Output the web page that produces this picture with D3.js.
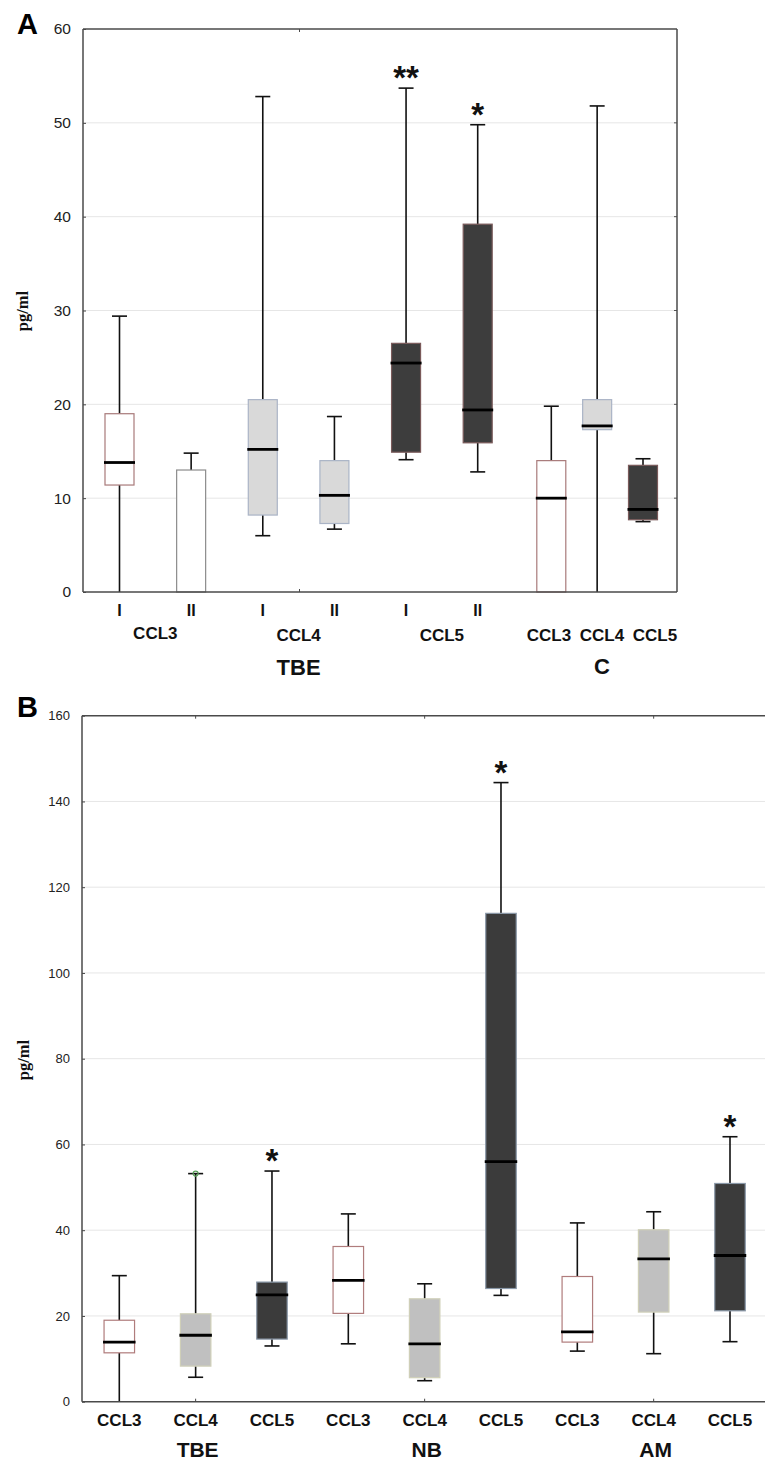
<!DOCTYPE html>
<html>
<head>
<meta charset="utf-8">
<script src="https://cdn.jsdelivr.net/npm/d3@7"></script>
<style>
  html, body { margin: 0; padding: 0; background: #fff; }
  svg { display: block; }
</style>
</head>
<body>
<div id="chart"></div>
<script>
// Box plots of CCL3 / CCL4 / CCL5 concentrations (pg/ml), panels A and B

// ----- Panel A data -----
const aGroups    = ["TBE", "TBE", "TBE", "TBE", "TBE", "TBE", "C", "C", "C"];
const aChemokine = ["CCL3", "CCL3", "CCL4", "CCL4", "CCL5", "CCL5", "CCL3", "CCL4", "CCL5"];
const aStage     = ["I", "II", "I", "II", "I", "II", "", "", ""];
const aMin       = [0, 13.0, 6.0, 6.7, 14.1, 12.8, 0, 0, 7.5];
const aQ1        = [11.4, 0, 8.2, 7.3, 14.9, 15.9, 0, 17.3, 7.7];
const aMedian    = [13.8, null, 15.2, 10.3, 24.4, 19.4, 10.0, 17.7, 8.8];
const aQ3        = [19.0, 13.0, 20.5, 14.0, 26.5, 39.2, 14.0, 20.5, 13.5];
const aMax       = [29.4, 14.8, 52.8, 18.7, 53.7, 49.8, 19.8, 51.8, 14.2];
const aStars     = ["", "", "", "", "**", "*", "", "", ""];
const aTicks     = [0, 10, 20, 30, 40, 50, 60];

// ----- Panel B data -----
const bGroups    = ["TBE", "TBE", "TBE", "NB", "NB", "NB", "AM", "AM", "AM"];
const bChemokine = ["CCL3", "CCL4", "CCL5", "CCL3", "CCL4", "CCL5", "CCL3", "CCL4", "CCL5"];
const bMin       = [0, 5.7, 13.0, 13.5, 4.9, 24.8, 11.8, 11.2, 14.0];
const bQ1        = [11.4, 8.3, 14.6, 20.6, 5.6, 26.4, 13.9, 20.9, 21.2];
const bMedian    = [13.9, 15.5, 24.9, 28.3, 13.5, 56.0, 16.3, 33.3, 34.1];
const bQ3        = [19.0, 20.5, 27.9, 36.2, 24.0, 113.9, 29.2, 40.1, 50.9];
const bMax       = [29.4, 53.2, 53.8, 43.8, 27.5, 144.4, 41.7, 44.3, 61.8];
const bStars     = ["", "", "*", "", "", "*", "", "", "*"];
const bOutliers  = [null, 53.2, null, null, null, null, null, null, null];
const bTicks     = [0, 20, 40, 60, 80, 100, 120, 140, 160];

// ----- Styling -----
const SANS = "'Liberation Sans', Arial, sans-serif";
const SERIF = "'Liberation Serif', 'Times New Roman', serif";
const FILL_A = { CCL3: "#ffffff", CCL4: "#d9d9d9", CCL5: "#3d3d3d" };
const STROKE_A = { CCL3: "#a87a7a", CCL4: "#aab4c6", CCL5: "#7a5a5a" };
const FILL_B = { CCL3: "#ffffff", CCL4: "#c0c0c0", CCL5: "#3b3b3b" };
const STROKE_B = { CCL3: "#b07c7c", CCL4: "#cfcfb8", CCL5: "#8a98a8" };

const svg = d3.select("#chart").append("svg")
  .attr("width", 765).attr("height", 1462);
svg.append("rect").attr("width", 765).attr("height", 1462).attr("fill", "#fff");

function rows(groups, chem, mins, q1, med, q3, maxs, stars) {
  return groups.map((g, i) => ({
    i, group: g, chem: chem[i], min: mins[i], q1: q1[i],
    median: med[i], q3: q3[i], max: maxs[i], star: stars[i]
  }));
}

// Draws frame, grid, y axis and boxes for one panel
function drawPanel(p) {
  const g = svg.append("g");
  const { x, y, left, right, top, bottom, boxW } = p;

  // 1. Grid lines
  g.selectAll("line.grid").data(p.ticks.filter(t => t > p.ticks[0] && t < p.ticks[p.ticks.length - 1]))
    .join("line")
    .attr("x1", left).attr("x2", right)
    .attr("y1", d => y(d)).attr("y2", d => y(d))
    .attr("stroke", "#e6e6e6").attr("stroke-width", 1);

  // 2. Y axis labels + small inward ticks
  const yAxis = d3.axisLeft(y).tickValues(p.ticks).tickSize(-3).tickPadding(12).tickSizeOuter(0);
  const ya = g.append("g").attr("transform", `translate(${left},0)`).call(yAxis);
  ya.select(".domain").remove();
  ya.selectAll("line").attr("stroke", "#444");
  ya.selectAll("text").attr("font-family", SANS).attr("font-size", p.tickFont).attr("fill", "#222");
  if (p.rightTicks) {
    g.selectAll("line.rt").data(p.ticks.slice(1, -1)).join("line")
      .attr("x1", right - 3).attr("x2", right)
      .attr("y1", d => y(d)).attr("y2", d => y(d))
      .attr("stroke", "#555");
  }

  // 3. Boxes
  const data = p.data;
  const bx = g.selectAll("g.box").data(data).join("g").attr("class", "box");

  // whiskers
  bx.append("line")
    .attr("x1", d => x(d.i)).attr("x2", d => x(d.i))
    .attr("y1", d => y(d.q3)).attr("y2", d => y(d.max))
    .attr("stroke", "#111").attr("stroke-width", 1.6);
  bx.filter(d => d.min < d.q1).append("line")
    .attr("x1", d => x(d.i)).attr("x2", d => x(d.i))
    .attr("y1", d => y(d.q1)).attr("y2", d => y(d.min))
    .attr("stroke", "#111").attr("stroke-width", 1.6);
  // caps
  bx.append("line")
    .attr("x1", d => x(d.i) - 7.5).attr("x2", d => x(d.i) + 7.5)
    .attr("y1", d => y(d.max)).attr("y2", d => y(d.max))
    .attr("stroke", "#111").attr("stroke-width", 1.6);
  bx.filter(d => d.min > 0 && d.min < d.q1).append("line")
    .attr("x1", d => x(d.i) - 7.5).attr("x2", d => x(d.i) + 7.5)
    .attr("y1", d => y(d.min)).attr("y2", d => y(d.min))
    .attr("stroke", "#111").attr("stroke-width", 1.6);
  // box
  bx.append("rect")
    .attr("x", d => x(d.i) - boxW / 2).attr("width", boxW)
    .attr("y", d => y(d.q3)).attr("height", d => y(d.q1) - y(d.q3))
    .attr("fill", d => p.fill(d)).attr("stroke", d => p.stroke(d)).attr("stroke-width", 1.2);
  // median
  bx.filter(d => d.median != null).append("line")
    .attr("x1", d => x(d.i) - boxW / 2 - 1).attr("x2", d => x(d.i) + boxW / 2 + 1)
    .attr("y1", d => y(d.median)).attr("y2", d => y(d.median))
    .attr("stroke", "#000").attr("stroke-width", 2.8);
  // significance stars
  bx.filter(d => d.star).append("text")
    .attr("x", d => x(d.i)).attr("y", d => y(d.max) + 1)
    .attr("text-anchor", "middle")
    .attr("font-family", SANS).attr("font-weight", "bold").attr("font-size", 33)
    .attr("fill", "#111").text(d => d.star);

  // 4. Frame
  const frame = g.append("g").attr("stroke", "#4a4a4a").attr("stroke-width", 1.5).attr("fill", "none");
  frame.append("line").attr("x1", left).attr("x2", left).attr("y1", top).attr("y2", bottom);
  frame.append("line").attr("x1", left).attr("x2", p.frameRight).attr("y1", bottom).attr("y2", bottom);
  frame.append("line").attr("x1", left).attr("x2", p.frameRight).attr("y1", top).attr("y2", top);
  if (p.rightTicks) frame.append("line").attr("x1", right).attr("x2", right).attr("y1", top).attr("y2", bottom);
  g.selectAll("line.gt").data(p.groupTicks).join("line")
    .attr("x1", d => d).attr("x2", d => d).attr("y1", top).attr("y2", top + 3)
    .attr("stroke", "#4a4a4a");
  g.selectAll("line.gb").data(p.groupTicks).join("line")
    .attr("x1", d => d).attr("x2", d => d).attr("y1", bottom).attr("y2", bottom - 3)
    .attr("stroke", "#4a4a4a");

  // 5. Y title + panel letter
  g.append("text")
    .attr("transform", `translate(${p.yTitleX},${p.yTitleY}) rotate(-90)`)
    .attr("text-anchor", "middle")
    .attr("font-family", SERIF).attr("font-weight", "bold").attr("font-size", 16.5)
    .attr("fill", "#111").text("pg/ml");
  g.append("text")
    .attr("x", 17).attr("y", p.letterY)
    .attr("font-family", SANS).attr("font-weight", "bold").attr("font-size", 29)
    .attr("fill", "#000").text(p.letter);
  return g;
}

// ----- Panel A -----
const yA = d3.scaleLinear().domain([0, 60]).range([592, 29]);
// TBE boxes are evenly spaced, the control group C sits tighter at the right
const xA = d3.scaleLinear().domain([0, 5, 6, 8]).range([119.5, 477.7, 551.3, 643]);
const dataA = rows(aGroups, aChemokine, aMin, aQ1, aMedian, aQ3, aMax, aStars);

const gA = drawPanel({
  data: dataA, x: xA, y: yA, ticks: aTicks,
  left: 83, right: 677, top: 29, bottom: 592, frameRight: 677, boxW: 29,
  tickFont: 15.5, rightTicks: true, groupTicks: [299.5],
  fill: d => FILL_A[d.chem],
  stroke: d => (d.chem === "CCL3" && d.i === 1) ? "#8c8c8c" : STROKE_A[d.chem],
  yTitleX: 28, yTitleY: 311, letter: "A", letterY: 34
});

const boldLabel = (sel, size) => sel
  .attr("text-anchor", "middle").attr("font-family", SANS)
  .attr("font-weight", "bold").attr("font-size", size).attr("fill", "#111");

// stage labels I / II
gA.selectAll("text.stage").data(dataA.filter(d => d.group === "TBE")).join("text")
  .attr("x", d => xA(d.i)).attr("y", 616)
  .call(boldLabel, 16).text(d => aStage[d.i]);
// chemokine labels under TBE pairs
const tbePairs = d3.groups(dataA.filter(d => d.group === "TBE"), d => d.chem);
gA.selectAll("text.pair").data(tbePairs).join("text")
  .attr("x", ([, v]) => d3.mean(v, d => xA(d.i)))
  .attr("y", ([k]) => k === "CCL3" ? 639 : 641)
  .call(boldLabel, 17).text(([k]) => k);
// chemokine labels under control group
const cRows = dataA.filter(d => d.group === "C");
const xLabC = d3.scalePoint().domain(cRows.map(d => d.chem)).range([549, 655]);
gA.selectAll("text.clab").data(cRows).join("text")
  .attr("x", d => xLabC(d.chem)).attr("y", 641)
  .call(boldLabel, 17).text(d => d.chem);
// group labels
gA.append("text").attr("x", xA(2.5)).attr("y", 675).call(boldLabel, 22).text("TBE");
gA.append("text").attr("x", xLabC("CCL4")).attr("y", 674).call(boldLabel, 22).text("C");

// ----- Panel B -----
const yB = d3.scaleLinear().domain([0, 160]).range([1401.7, 715.7]);
const dataB = rows(bGroups, bChemokine, bMin, bQ1, bMedian, bQ3, bMax, bStars);
const xB = d3.scalePoint().domain(dataB.map(d => d.i)).range([119.3, 730]);
const groupsB = d3.groups(dataB, d => d.group);
const groupCenter = v => xB(v[Math.floor(v.length / 2)].i);

const gB = drawPanel({
  data: dataB, x: xB, y: yB, ticks: bTicks,
  left: 82, right: 766, top: 715.7, bottom: 1401.7, frameRight: 766, boxW: 30.5,
  tickFont: 13, rightTicks: false, groupTicks: groupsB.map(([, v]) => groupCenter(v)),
  fill: d => FILL_B[d.chem], stroke: d => STROKE_B[d.chem],
  yTitleX: 29, yTitleY: 1060, letter: "B", letterY: 717
});

// outlier marker
gB.selectAll("circle.out").data(dataB.filter(d => bOutliers[d.i] != null)).join("circle")
  .attr("cx", d => xB(d.i)).attr("cy", d => yB(bOutliers[d.i])).attr("r", 2.5)
  .attr("fill", "none").attr("stroke", "#5aa05a").attr("stroke-width", 1.2);

gB.selectAll("text.chem").data(dataB).join("text")
  .attr("x", d => xB(d.i)).attr("y", 1425.5)
  .call(boldLabel, 17).text(d => d.chem);
gB.selectAll("text.grp").data(groupsB).join("text")
  .attr("x", ([, v]) => groupCenter(v) + 2).attr("y", 1456.5)
  .call(boldLabel, 21).text(([k]) => k);
</script>
</body>
</html>
